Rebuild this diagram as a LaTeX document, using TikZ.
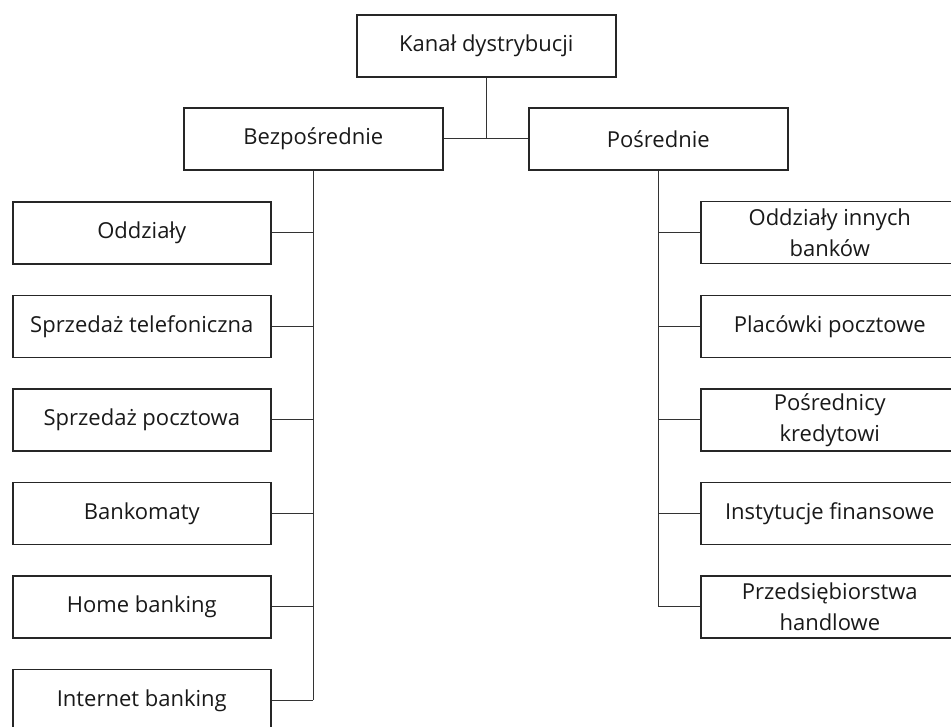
\documentclass[tikz,border=0pt]{standalone}
\usepackage{fontspec}
\setmainfont{Open Sans}
\begin{document}
\begin{tikzpicture}[x=1pt,y=-1pt,
  box/.style={draw=black!85, line width=1.6pt, minimum width=258pt, minimum height=62pt,
    inner sep=0pt, align=center, font=\fontsize{22}{31}\selectfont, text=black!90, anchor=north west},
  conn/.style={draw=black!80, line width=1.2pt}]
\useasboundingbox (0,0) rectangle (951,726);
\clip (0,0) rectangle (951,726);
\node[box, minimum width=259pt] (root) at (356,14) {Kanał dystrybucji};
\node[box, minimum width=259pt] (bez) at (183,107) {Bezpośrednie};
\node[box, minimum width=259pt] (pos) at (528,107) {Pośrednie};
% left column
\node[box] (l1) at (12,201) {Oddziały};
\node[box] (l2) at (12,294.5) {Sprzedaż telefoniczna};
\node[box] (l3) at (12,388) {Sprzedaż pocztowa};
\node[box] (l4) at (12,481.5) {Bankomaty};
\node[box] (l5) at (12,575) {Home banking};
\node[box] (l6) at (12,668.5) {Internet banking};
% right column
\node[box] (r1) at (700,200.5) {Oddziały innych\\banków};
\node[box] (r2) at (700,294.5) {Placówki pocztowe};
\node[box] (r3) at (700,388) {Pośrednicy\\kredytowi};
\node[box] (r4) at (700,481.5) {Instytucje finansowe};
\node[box] (r5) at (700,575) {Przedsiębiorstwa\\handlowe};
% connectors
\coordinate (j) at (root.south |- bez.east);
\draw[conn] (root.south) -- (j);
\draw[conn] (bez.east) -- (pos.west);
\draw[conn] (bez.south) -- (bez.south |- l6.east);
\foreach \n in {l1,l2,l3,l4,l5,l6}{\draw[conn] (\n.east) -- (bez.south |- \n.east);}
\draw[conn] (pos.south) -- (pos.south |- r5.west);
\foreach \n in {r1,r2,r3,r4,r5}{\draw[conn] (\n.west) -- (pos.south |- \n.west);}
\end{tikzpicture}
\end{document}
